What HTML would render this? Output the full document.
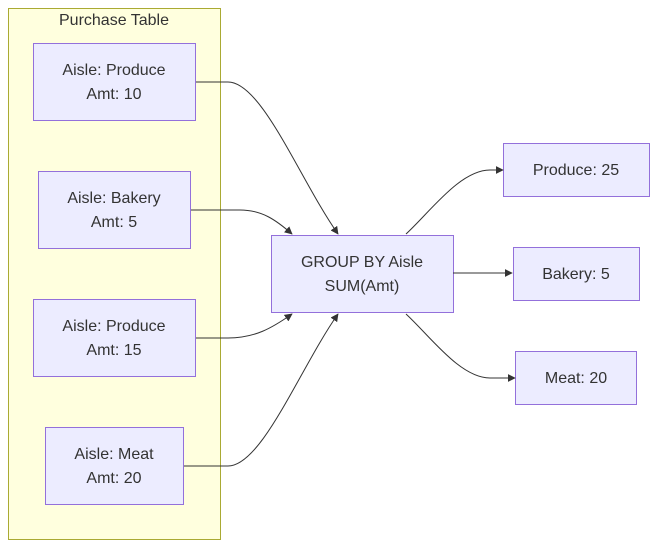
<!DOCTYPE html>
<html><head><meta charset="utf-8"><style>
html,body{margin:0;padding:0;background:#fff;}
svg{display:block;}
text{font-family:"Liberation Sans",Arial,sans-serif;font-size:16px;fill:#333;}
.n{fill:#ececff;stroke:#9370db;stroke-width:1;}
.e{fill:none;stroke:#333;stroke-width:1;}
</style></head><body>
<svg width="658" height="548" viewBox="0 0 658 548" xmlns="http://www.w3.org/2000/svg">
<defs><marker id="a" viewBox="0 0 10 10" refX="9" refY="5" markerWidth="8" markerHeight="8" orient="auto"><path d="M0,0L10,5L0,10z" fill="#333"/></marker></defs>
<rect x="8.5" y="8.5" width="212" height="531" fill="#ffffde" stroke="#aaaa33"/>
<text x="114" y="25" text-anchor="middle">Purchase Table</text>

<rect class="n" x="33.5" y="43.5" width="162" height="77"/>
<text x="114" y="75" text-anchor="middle">Aisle: Produce</text><text x="114" y="99" text-anchor="middle">Amt: 10</text>
<rect class="n" x="38.5" y="171.5" width="152" height="77"/>
<text x="114" y="203" text-anchor="middle">Aisle: Bakery</text><text x="114" y="227" text-anchor="middle">Amt: 5</text>
<rect class="n" x="33.5" y="299.5" width="162" height="77"/>
<text x="114" y="331" text-anchor="middle">Aisle: Produce</text><text x="114" y="355" text-anchor="middle">Amt: 15</text>
<rect class="n" x="45.5" y="427.5" width="138" height="77"/>
<text x="114" y="459" text-anchor="middle">Aisle: Meat</text><text x="114" y="483" text-anchor="middle">Amt: 20</text>

<rect class="n" x="271.5" y="235.5" width="182" height="77"/>
<text x="362" y="267" text-anchor="middle">GROUP BY Aisle</text><text x="362" y="291" text-anchor="middle">SUM(Amt)</text>

<rect class="n" x="503.5" y="143.5" width="146" height="53"/>
<text x="576" y="175" text-anchor="middle">Produce: 25</text>
<rect class="n" x="513.5" y="247.5" width="126" height="53"/>
<text x="576" y="279" text-anchor="middle">Bakery: 5</text>
<rect class="n" x="515.5" y="351.5" width="121" height="53"/>
<text x="576" y="383" text-anchor="middle">Meat: 20</text>

<path class="e" marker-end="url(#a)" d="M196,82 L228,82 C262,82 300,180 338,234"/>
<path class="e" marker-end="url(#a)" d="M191,210 L240,210 C262,210 276,220 292,234"/>
<path class="e" marker-end="url(#a)" d="M196,338 L228,338 C255,338 272,328 292,314"/>
<path class="e" marker-end="url(#a)" d="M184,466 L228,466 C262,466 300,368 338,314"/>
<path class="e" marker-end="url(#a)" d="M406,234 C430,212 460,170 490,170 L503,170"/>
<path class="e" marker-end="url(#a)" d="M453,273 L512,273"/>
<path class="e" marker-end="url(#a)" d="M406,314 C430,336 460,378 490,378 L515,378"/>
</svg>
</body></html>
